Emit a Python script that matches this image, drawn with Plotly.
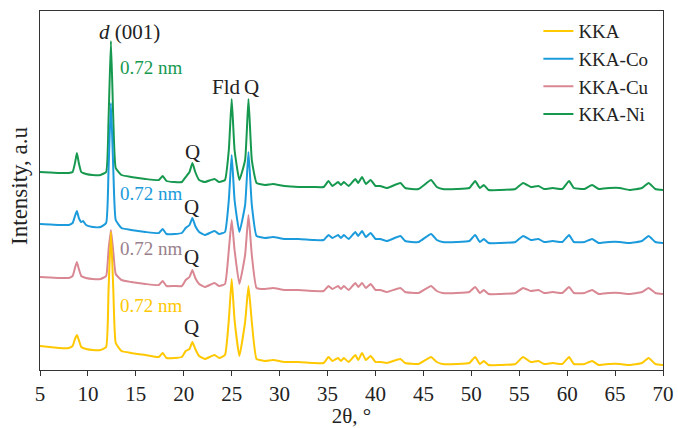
import plotly.graph_objects as go

two_theta = [5, 6, 7, 8, 8.4, 8.65, 8.85, 9.05, 9.3, 9.5, 9.8, 10.5, 11.3, 11.9, 12.15, 12.4, 12.65, 12.9,
             13.5, 14.5, 16, 17.4, 17.8, 18.2, 19, 19.8, 20.2, 20.6, 20.9, 21.2, 21.6, 22.2, 23.2, 23.7,
             24.3, 24.7, 25.0, 25.3, 25.8, 26.4, 26.75, 27.1, 27.6, 28.5, 29.3, 30.5, 32, 33.5, 34.6,
             35.1, 35.5, 36.1, 36.4, 36.7, 37.2, 37.9, 38.2, 38.6, 39.0, 39.5, 40.0, 40.5, 41.2, 42.6,
             43.1, 44.5, 45.8, 46.4, 47, 48.5, 49.8, 50.4, 50.9, 51.3, 51.8, 53, 54.6, 55.4, 56.2, 57.0,
             57.6, 58.5, 59.5, 60.2, 60.7, 61.8, 62.6, 63.3, 64.4, 65.5, 66.5, 67.8, 68.5, 69.2, 70]

kka_ni = [198, 197.5, 197, 197, 198, 207, 217, 207, 198, 197, 196, 195, 195, 198, 250, 329, 250, 202,
          195, 193, 191, 190, 194, 189, 188, 188, 193, 198, 207, 198, 190, 188, 191, 188,
          190, 220, 271, 220, 190, 210, 271, 210, 187, 185, 186, 184, 183, 183, 183,
          189, 184, 188, 185, 188, 184, 191, 187, 193, 186, 190, 184, 184, 182, 187,
          182, 181, 190, 183, 181, 181, 182, 189, 182, 185, 180, 180, 181, 187, 183, 184,
          181, 182, 181, 189, 182, 181, 185, 181, 182, 182, 180, 182, 187, 181, 180]

kka_co = [146, 145.5, 145, 145, 147, 154, 159, 152, 148, 149, 145, 143, 143, 147, 200, 267, 200, 150,
          142, 140, 138, 137, 141, 136, 136, 137, 142, 145, 152, 144, 138, 135, 139, 136,
          138, 170, 215, 170, 138, 165, 218, 165, 134, 132, 133, 131, 131, 130, 130,
          135, 132, 135, 132, 135, 131, 138, 134, 139, 133, 137, 131, 131, 129, 134,
          129, 128, 136, 130, 128, 128, 129, 135, 128, 131, 127, 127, 128, 134, 130, 131,
          128, 129, 128, 135, 128, 128, 131, 127, 128, 128, 127, 129, 134, 128, 127]

kka_cu = [93, 92.5, 92, 92, 94, 102, 108, 101, 94, 93, 92, 91, 91, 94, 120, 140, 118, 96,
          90, 88, 86, 85, 89, 84, 84, 84, 90, 93, 100, 92, 86, 83, 87, 84,
          86, 120, 150, 120, 86, 115, 155, 115, 82, 81, 82, 80, 80, 79, 79,
          84, 81, 84, 81, 84, 80, 87, 83, 87, 82, 86, 80, 80, 78, 82,
          78, 77, 84, 79, 77, 77, 78, 83, 77, 80, 76, 76, 77, 82, 79, 80,
          77, 78, 77, 83, 77, 77, 80, 76, 77, 77, 76, 78, 82, 77, 76]

kka = [24, 23, 22, 22, 24, 31, 35, 30, 23, 22, 21, 20, 20, 23, 80, 138, 80, 27,
       19, 17, 15, 13, 17, 12, 12, 13, 19, 21, 28, 21, 14, 11, 15, 12,
       15, 50, 91, 50, 14, 48, 84, 48, 11, 9, 10, 8, 8, 7, 7,
       13, 9, 12, 9, 12, 8, 15, 10, 17, 10, 14, 8, 8, 7, 11,
       7, 6, 13, 8, 6, 6, 7, 13, 6, 9, 5, 5, 6, 13, 8, 9,
       6, 7, 6, 13, 6, 6, 9, 5, 6, 6, 5, 7, 12, 6, 5]

x_ticks = [5, 10, 15, 20, 25, 30, 35, 40, 45, 50, 55, 60, 65, 70]

FONT = "Liberation Serif"
C_KKA, C_CO, C_CU, C_NI = "#FFC800", "#1B9BDB", "#D98893", "#16994F"
C_CU_TXT = "#9A7F8C"
TXT = "#222"

fig = go.Figure()
series = [("KKA-Ni", kka_ni, C_NI, 4), ("KKA-Co", kka_co, C_CO, 2),
          ("KKA-Cu", kka_cu, C_CU, 3), ("KKA", kka, C_KKA, 1)]
for name, ys, col, rank in series:
    fig.add_trace(go.Scatter(x=two_theta, y=ys, mode="lines", name=name, legendrank=rank,
                             line=dict(color=col, width=2, shape="spline", smoothing=0.4)))

ann = [
    dict(x=14.3, y=338, text="<i>d</i> (001)", color=TXT, size=21),
    dict(x=16.6, y=303, text="0.72 nm", color=C_NI, size=19),
    dict(x=16.6, y=177, text="0.72 nm", color=C_CO, size=19),
    dict(x=16.6, y=122, text="0.72 nm", color=C_CU_TXT, size=19),
    dict(x=16.6, y=65, text="0.72 nm", color=C_KKA, size=19),
    dict(x=24.45, y=283, text="Fld", color=TXT, size=21),
    dict(x=27.05, y=283, text="Q", color=TXT, size=21),
    dict(x=20.9, y=218, text="Q", color=TXT, size=21),
    dict(x=20.8, y=163, text="Q", color=TXT, size=21),
    dict(x=20.8, y=113, text="Q", color=TXT, size=21),
    dict(x=20.8, y=43, text="Q", color=TXT, size=21),
]
for a in ann:
    fig.add_annotation(x=a["x"], y=a["y"], xref="x", yref="y", text=a["text"], showarrow=False,
                       font=dict(family=FONT, size=a["size"], color=a["color"]))

fig.add_annotation(x=-0.032, y=0.513, xref="paper", yref="paper", text="Intensity, a.u",
                   xanchor="center", yanchor="middle",
                   textangle=-90, showarrow=False, font=dict(family=FONT, size=23, color=TXT))

fig.update_layout(
    width=678, height=428,
    margin=dict(l=40, r=15, t=11, b=58, autoexpand=False),
    paper_bgcolor="white", plot_bgcolor="white",
    font=dict(family=FONT, size=21, color=TXT),
    showlegend=True,
    legend=dict(x=0.8, y=0.997, xanchor="left", yanchor="top", bgcolor="rgba(0,0,0,0)",
                font=dict(family=FONT, size=19, color=TXT), tracegroupgap=0),
    xaxis=dict(range=[5, 70], tickvals=x_ticks, ticks="outside", ticklen=5, tickwidth=1,
               tickcolor="#333", showline=True, linecolor="#333", linewidth=1.2, mirror=True,
               showgrid=False, zeroline=False, tickfont=dict(family=FONT, size=21),
               title=dict(text="2θ, °", standoff=5, font=dict(family=FONT, size=21))),
    yaxis=dict(range=[0, 359], showticklabels=False, ticks="", showline=True, linecolor="#333",
               linewidth=1.2, mirror=True, showgrid=False, zeroline=False),
)

fig.write_html("out.html")
